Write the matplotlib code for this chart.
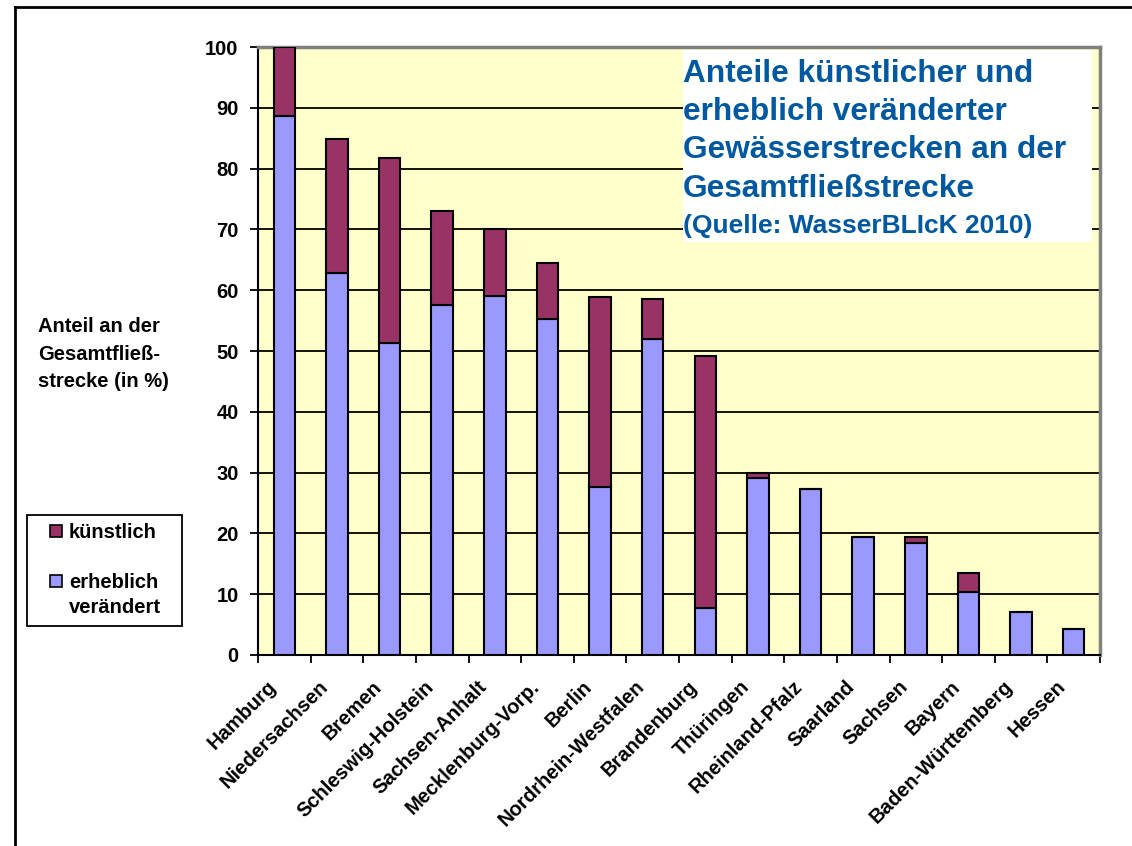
import numpy as np
import matplotlib
matplotlib.use('Agg')
import matplotlib.pyplot as plt
from matplotlib.patches import Rectangle
from matplotlib.lines import Line2D
from matplotlib.transforms import ScaledTranslation

plt.rcParams['font.family'] = ['Liberation Sans', 'DejaVu Sans']

# Data (Anteil an der Gesamtfliessstrecke in %)
laender = ['Hamburg', 'Niedersachsen', 'Bremen', 'Schleswig-Holstein',
           'Sachsen-Anhalt', 'Mecklenburg-Vorp.', 'Berlin', 'Nordrhein-Westfalen',
           'Brandenburg', 'Thüringen', 'Rheinland-Pfalz', 'Saarland', 'Sachsen',
           'Bayern', 'Baden-Württemberg', 'Hessen']
erheblich = [88.6, 62.9, 51.3, 57.6, 59.1, 55.2, 27.6, 51.9,
             7.8, 29.1, 27.3, 19.4, 18.5, 10.4, 7.1, 4.2]
kuenstlich = [11.4, 21.9, 30.5, 15.5, 10.9, 9.2, 31.2, 6.6,
              41.4, 0.8, 0.0, 0.0, 0.9, 3.1, 0.0, 0.0]
yticks = np.arange(0, 101, 10)

title_lines = ['Anteile künstlicher und', 'erheblich veränderter',
               'Gewässerstrecken an der', 'Gesamtfließstrecke']
subtitle = '(Quelle: WasserBLIcK 2010)'

col_erh = '#9999FF'
col_kue = '#993366'
col_title = '#0059A0'
W, H = 1132, 846

def fx(px):
    return px / W

def fy(py):
    return 1 - py / H

fig = plt.figure(figsize=(W / 100, H / 100), dpi=100)
fig.patch.set_facecolor('white')

ax = fig.add_axes([fx(258), fy(655), fx(1100) - fx(258), fy(47) - fy(655)])
ax.set_facecolor('#FFFFCC')

x = np.arange(len(laender))
ax.bar(x, erheblich, width=0.41, color=col_erh, edgecolor='black', linewidth=1.5, zorder=3)
ax.bar(x, kuenstlich, width=0.41, bottom=erheblich, color=col_kue,
       edgecolor='black', linewidth=1.5, zorder=3)

ax.set_xlim(-0.5, len(laender) - 0.5)
ax.set_ylim(0, 100)
ax.set_yticks(yticks)
ax.set_yticklabels([str(v) for v in yticks], fontsize=14.5, fontweight='bold')
ax.yaxis.grid(True, color='black', linewidth=1.3, zorder=1)
ax.set_axisbelow(True)
ax.tick_params(axis='y', direction='out', length=6, width=1.3, pad=8)

ax.set_xticks(np.arange(-0.5, len(laender), 1))
ax.set_xticklabels([])
ax.tick_params(axis='x', direction='out', length=6, width=1.3)

for sp in ['left', 'bottom']:
    ax.spines[sp].set_color('black')
    ax.spines[sp].set_linewidth(1.5)
for sp in ['top', 'right']:
    ax.spines[sp].set_color('#808080')
    ax.spines[sp].set_linewidth(2.5)

# rotated category labels
off = ScaledTranslation(-18 / 100, -22 / 100, fig.dpi_scale_trans)
for xi, name in zip(x, laender):
    ax.text(xi, 0, name, transform=ax.get_xaxis_transform() + off,
            rotation=45, rotation_mode='anchor', ha='right', va='top',
            fontsize=14.5, fontweight='bold')

# y label
fig.text(fx(38), fy(354), 'Anteil an der\nGesamtfließ-\nstrecke (in %)',
         ha='left', va='center', fontsize=14.5, fontweight='bold', linespacing=1.55)

# title box
fig.add_artist(Rectangle((fx(683), fy(242)), fx(1092) - fx(683), fy(50) - fy(242),
                         transform=fig.transFigure, facecolor='white',
                         edgecolor='none', zorder=2))
for line, yb in zip(title_lines, [82, 120, 158, 197]):
    fig.text(fx(683), fy(yb), line, ha='left', va='baseline', fontsize=22.8,
             fontweight='bold', color=col_title, zorder=3)
fig.text(fx(683), fy(233), subtitle, ha='left', va='baseline', fontsize=19,
         fontweight='bold', color=col_title, zorder=3)

# legend
fig.add_artist(Rectangle((fx(27), fy(626)), fx(182) - fx(27), fy(515) - fy(626),
                         transform=fig.transFigure, facecolor='white',
                         edgecolor='black', linewidth=1.3, zorder=2))
fig.add_artist(Rectangle((fx(50), fy(537)), fx(62) - fx(50), fy(525) - fy(537),
                         transform=fig.transFigure, facecolor=col_kue,
                         edgecolor='black', linewidth=1.2, zorder=3))
fig.add_artist(Rectangle((fx(50), fy(587)), fx(62) - fx(50), fy(575) - fy(587),
                         transform=fig.transFigure, facecolor=col_erh,
                         edgecolor='black', linewidth=1.2, zorder=3))
fig.text(fx(69), fy(532), 'künstlich', ha='left', va='center', fontsize=14.5,
         fontweight='bold', zorder=4)
fig.text(fx(69), fy(595), 'erheblich\nverändert', ha='left', va='center', fontsize=14.5,
         fontweight='bold', linespacing=1.45, zorder=4)

# outer frame (left and top edges)
fig.add_artist(Line2D([fx(15), fx(15)], [0, fy(7)], transform=fig.transFigure,
                      color='black', linewidth=2))
fig.add_artist(Line2D([fx(15), 1], [fy(7), fy(7)], transform=fig.transFigure,
                      color='black', linewidth=2))

plt.savefig('out.png', dpi=100, facecolor='white')
plt.close()
